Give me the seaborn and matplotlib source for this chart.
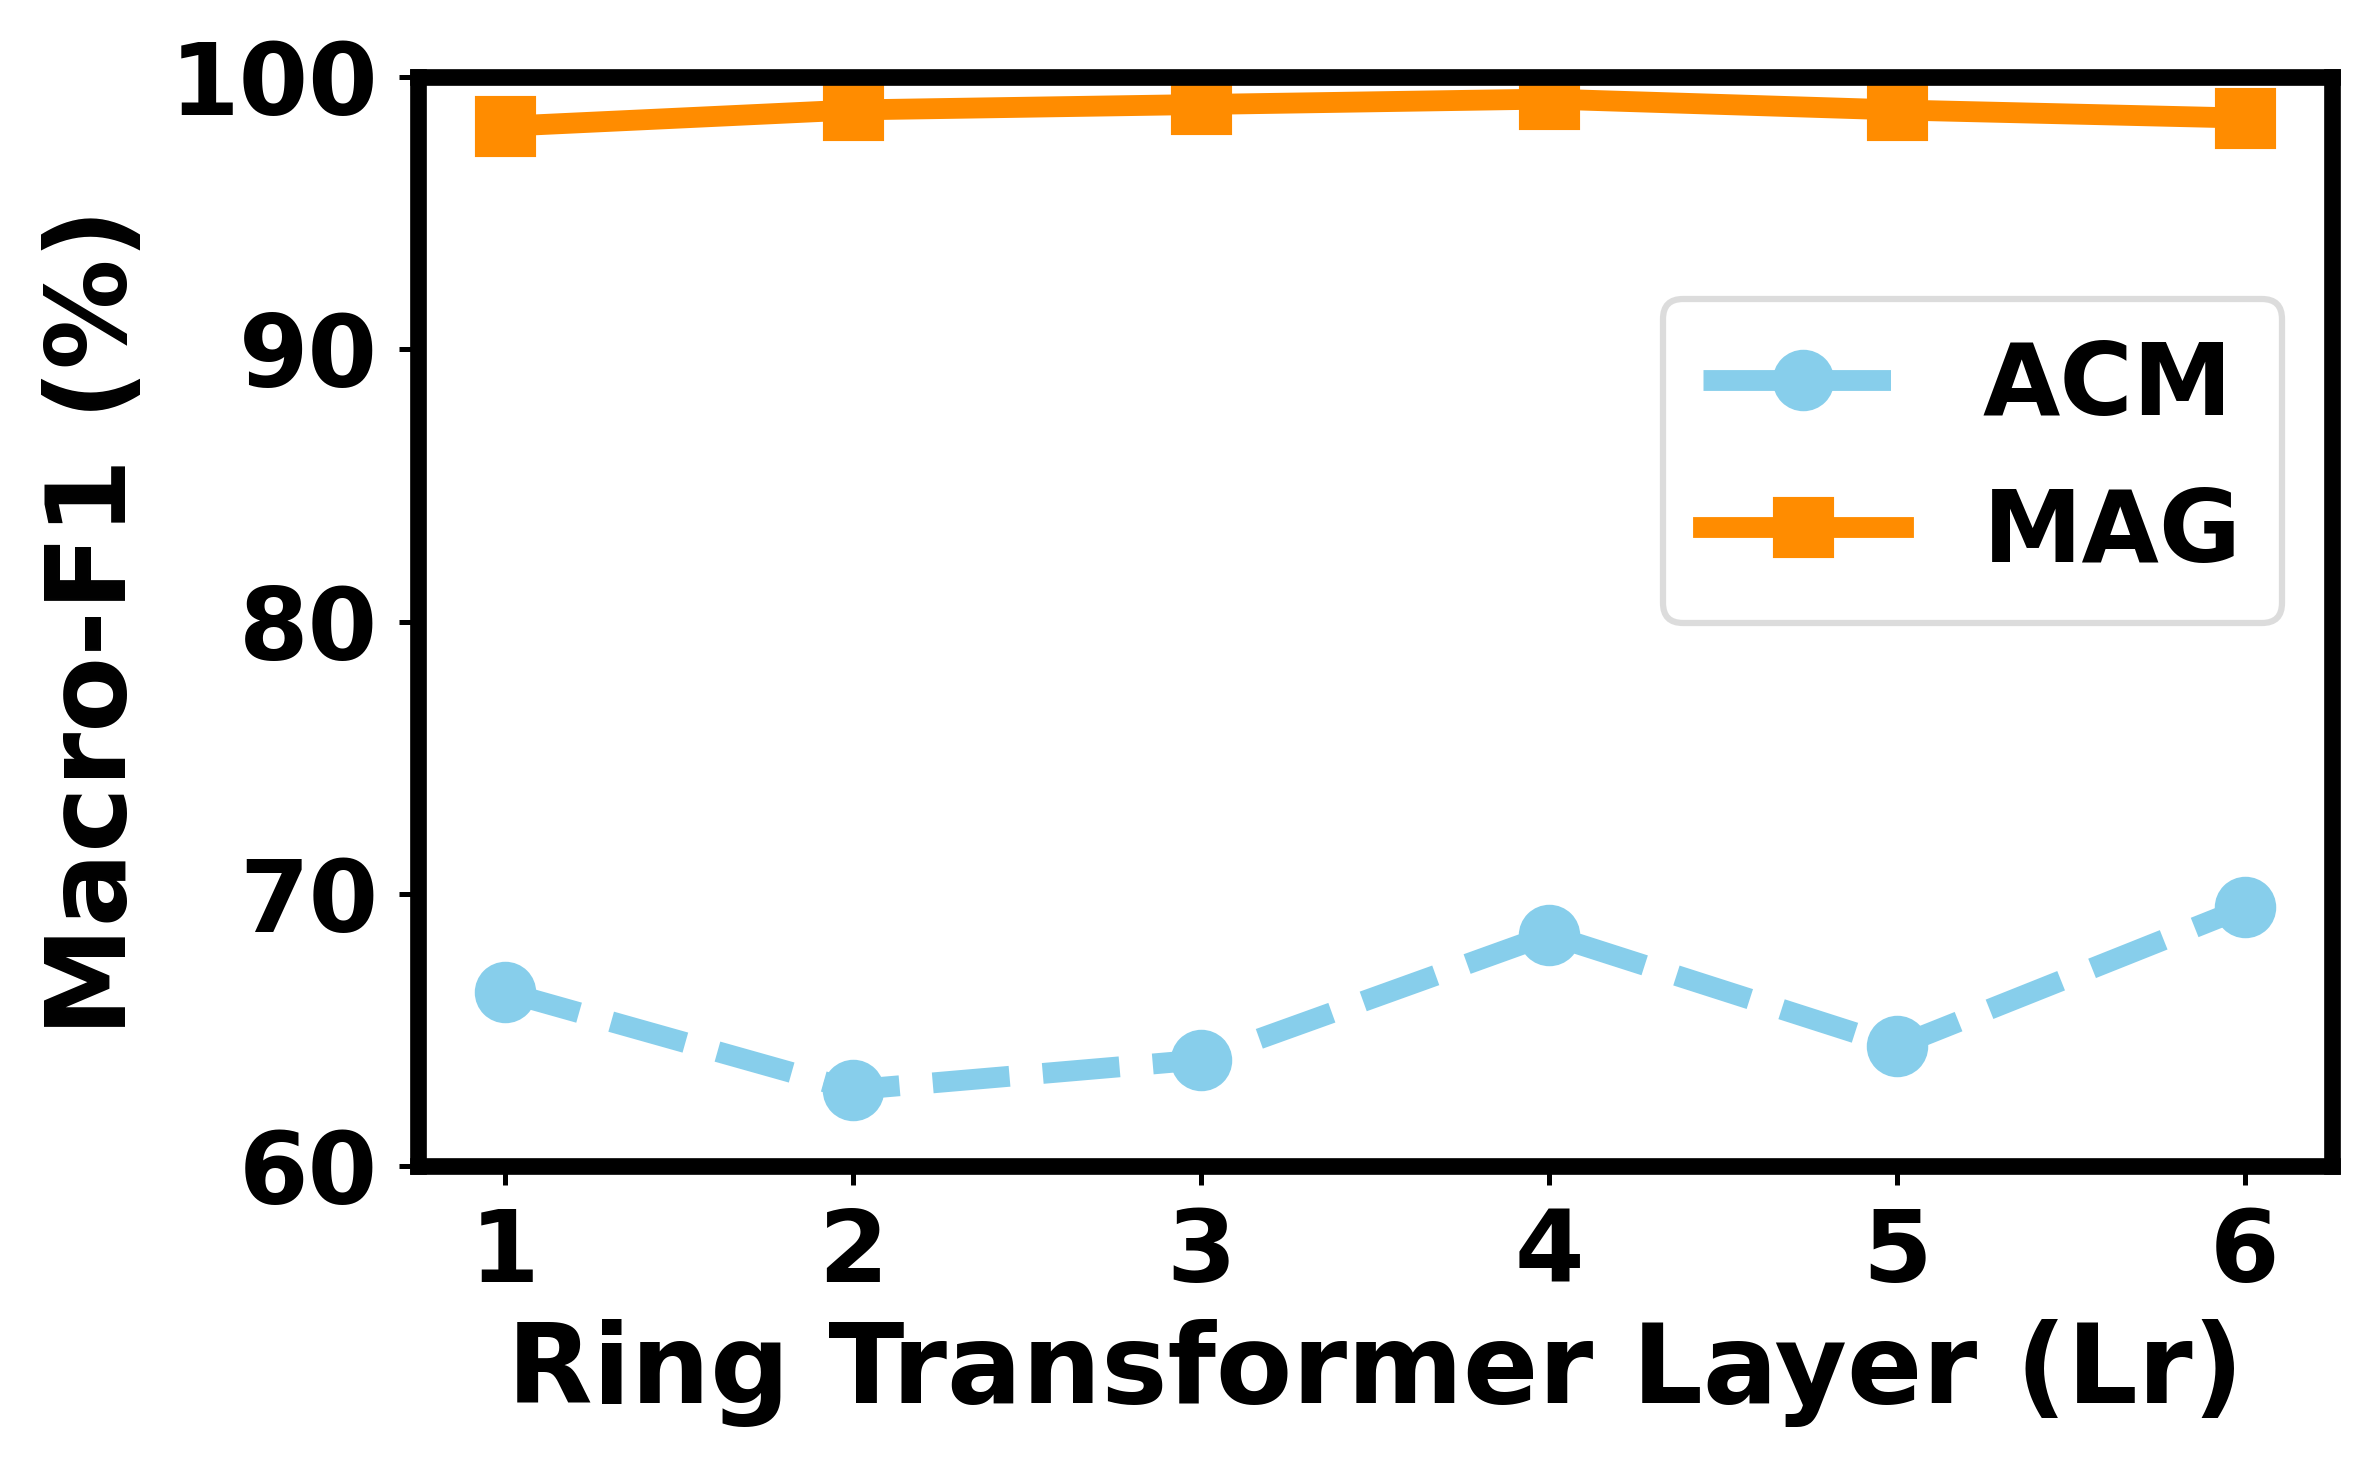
import numpy as np
import pandas as pd
import seaborn as sns
import matplotlib.pyplot as plt

layers = [1, 2, 3, 4, 5, 6]
acm = [66.4, 62.8, 63.9, 68.5, 64.4, 69.5]
mag = [98.2, 98.8, 99.0, 99.2, 98.8, 98.5]

sns.set_style("ticks")
plt.rcParams['font.family'] = ['DejaVu Sans']
plt.rcParams['font.weight'] = 'bold'
plt.rcParams['axes.labelweight'] = 'bold'
plt.rcParams['text.color'] = 'black'
plt.rcParams['axes.labelcolor'] = 'black'
plt.rcParams['xtick.color'] = 'black'
plt.rcParams['ytick.color'] = 'black'
plt.rcParams['lines.solid_capstyle'] = 'projecting'
plt.rcParams['lines.dash_capstyle'] = 'butt'

fig, ax = plt.subplots(figsize=(2373 / 300, 1472 / 300), dpi=300)
fig.subplots_adjust(left=0.1761, right=0.9827, top=0.9475, bottom=0.2079)

sns.lineplot(x=layers, y=acm, ax=ax, color='skyblue', marker='o', linestyle='--',
             linewidth=5, markersize=14, markeredgecolor='skyblue', label='ACM')
sns.lineplot(x=layers, y=mag, ax=ax, color='darkorange', marker='s', linestyle='-',
             linewidth=5, markersize=14, markeredgecolor='darkorange', label='MAG')

ax.set_ylim(60, 100)
ax.set_yticks([60, 70, 80, 90, 100])
ax.set_xticks(layers)
ax.set_xlabel('Ring Transformer Layer (Lr)', fontsize=26.7, fontweight='bold', labelpad=4)
ax.set_ylabel('Macro-F1 (%)', fontsize=26.5, fontweight='bold', labelpad=5)
ax.tick_params(axis='both', labelsize=24, length=4.5, width=1.2, color='black', pad=5)
for lab in ax.get_xticklabels() + ax.get_yticklabels():
    lab.set_fontweight('bold')
for sp in ax.spines.values():
    sp.set_visible(True)
    sp.set_color('black')
    sp.set_linewidth(4)

leg = ax.legend(loc='upper right', bbox_to_anchor=(1, 0.842), fontsize=24,
                labelspacing=0.5, frameon=True, fancybox=True)
leg.get_frame().set_edgecolor('#d4d4d4')
leg.get_frame().set_linewidth(1.5)
for t in leg.get_texts():
    t.set_fontweight('bold')
for h in leg.get_lines():
    h.set_solid_capstyle('projecting')
    h.set_dash_capstyle('butt')

fig.savefig('out.png', dpi=300)
